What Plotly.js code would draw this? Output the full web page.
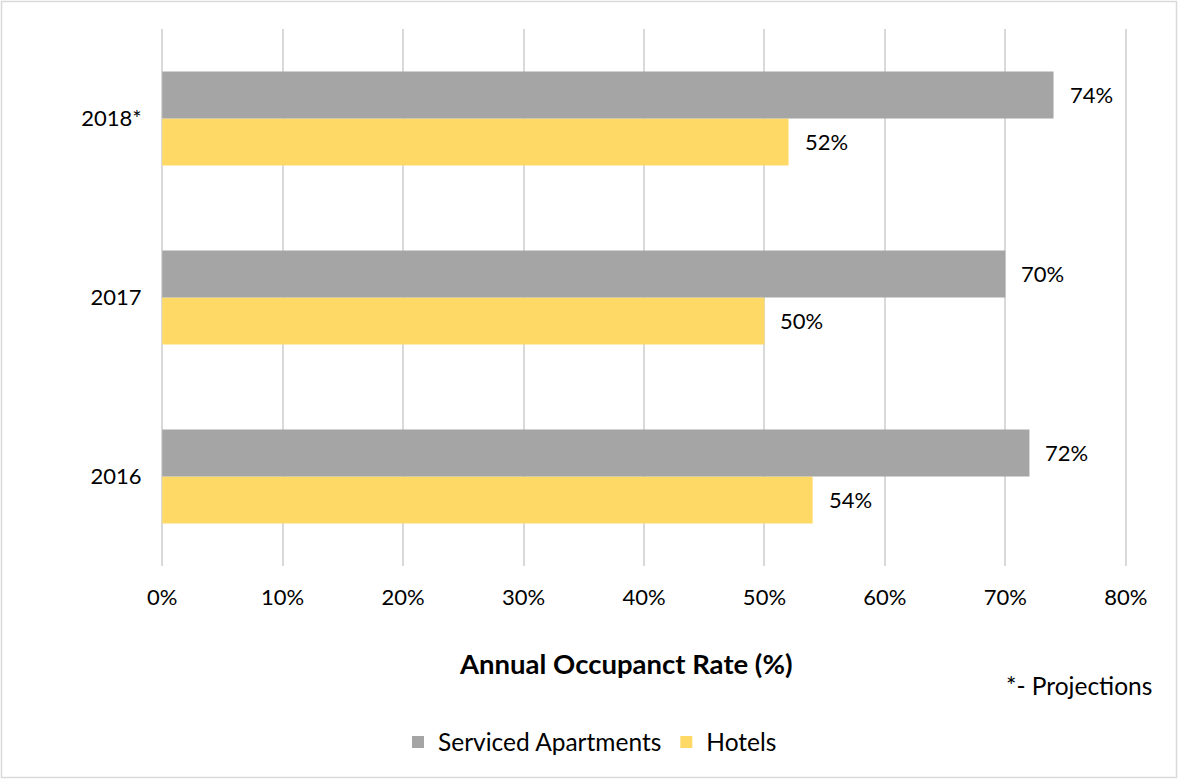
<!DOCTYPE html>
<html>
<head>
<meta charset="utf-8">
<script src="https://cdn.plot.ly/plotly-3.0.1.min.js"></script>
<style>
  html, body { margin: 0; padding: 0; background: #ffffff; }
  #chart { width: 1178px; height: 779px; }
</style>
</head>
<body>
<div id="chart"></div>
<script>
// ---- data ----
const categories = ["2016", "2017", "2018*"];
const servicedApartments = [72, 70, 74];
const hotels = [54, 50, 52];
const xTickVals = [0, 10, 20, 30, 40, 50, 60, 70, 80];
const xTickText = ["0%", "10%", "20%", "30%", "40%", "50%", "60%", "70%", "80%"];
const seriesNames = ["Serviced Apartments", "Hotels"];
const axisTitle = "Annual Occupanct Rate (%)";
const footnote = "*- Projections";

const W = 1178, H = 779;
const M = { l: 161, r: 51, t: 29, b: 213 };
const pw = W - M.l - M.r, ph = H - M.t - M.b;
const px2x = (px) => (px - M.l) / pw;
const px2y = (py) => (H - M.b - py) / ph;

const FONT = "Lato, 'Noto Sans', 'Liberation Sans', sans-serif";
const GRAY = "#A5A5A5", YELLOW = "#FFD966";

const traces = [
  {
    type: "bar", orientation: "h", name: seriesNames[1],
    y: categories.slice(), x: hotels.slice(),
    marker: { color: YELLOW }
  },
  {
    type: "bar", orientation: "h", name: seriesNames[0],
    y: categories.slice(), x: servicedApartments.slice(),
    marker: { color: GRAY }
  }
];

const annotations = [];
categories.forEach((c, i) => {
  annotations.push({
    x: servicedApartments[i], y: i, xref: "x", yref: "y",
    text: servicedApartments[i] + "%", showarrow: false,
    xanchor: "left", yanchor: "middle", xshift: 14, yshift: 24,
    font: { family: FONT, size: 22, color: "#000" }
  });
  annotations.push({
    x: hotels[i], y: i, xref: "x", yref: "y",
    text: hotels[i] + "%", showarrow: false,
    xanchor: "left", yanchor: "middle", xshift: 14, yshift: -23,
    font: { family: FONT, size: 22, color: "#000" }
  });
});
annotations.push({
  xref: "paper", yref: "paper", x: px2x(626), y: px2y(663),
  text: "<b>" + axisTitle + "</b>", showarrow: false,
  xanchor: "center", yanchor: "middle",
  font: { family: FONT, size: 27.5, color: "#000" }
});
annotations.push({
  xref: "paper", yref: "paper", x: px2x(1154), y: px2y(685),
  text: footnote, showarrow: false,
  xanchor: "right", yanchor: "middle",
  font: { family: FONT, size: 24.5, color: "#000" }
});

const layout = {
  width: W, height: H,
  margin: { l: M.l, r: M.r, t: M.t, b: M.b, pad: 0 },
  paper_bgcolor: "#ffffff", plot_bgcolor: "#ffffff",
  font: { family: FONT, size: 22, color: "#000" },
  barmode: "group", bargap: 0.475, bargroupgap: 0,
  showlegend: true,
  legend: {
    orientation: "h", traceorder: "reversed",
    x: px2x(590), xanchor: "center",
    y: px2y(742), yanchor: "middle",
    font: { family: FONT, size: 24.5, color: "#000" },
    bgcolor: "rgba(0,0,0,0)"
  },
  xaxis: {
    type: "linear",
    range: [-0.1, 80.1], tickmode: "array", tickvals: xTickVals,
    ticktext: xTickText,
    showgrid: true, gridcolor: "#D9D9D9", gridwidth: 1.5,
    zeroline: false, showline: false, ticks: "",
    ticklabelstandoff: 16,
    tickfont: { family: FONT, size: 22, color: "#000" }
  },
  yaxis: {
    type: "category",
    range: [-0.5, 2.5],
    showgrid: false, zeroline: false, showline: false,
    ticks: "outside", ticklen: 14, tickcolor: "rgba(0,0,0,0)",
    tickfont: { family: FONT, size: 22, color: "#000" }
  },
  annotations: annotations,
  shapes: [
    {
      type: "rect", xref: "paper", yref: "paper",
      x0: px2x(1.5), x1: px2x(1176.5), y0: px2y(777.5), y1: px2y(1.5),
      line: { color: "#D9D9D9", width: 1.5 }, fillcolor: "rgba(0,0,0,0)",
      layer: "below"
    }
  ]
};

Plotly.newPlot("chart", traces, layout, { displayModeBar: false });
</script>
</body>
</html>
